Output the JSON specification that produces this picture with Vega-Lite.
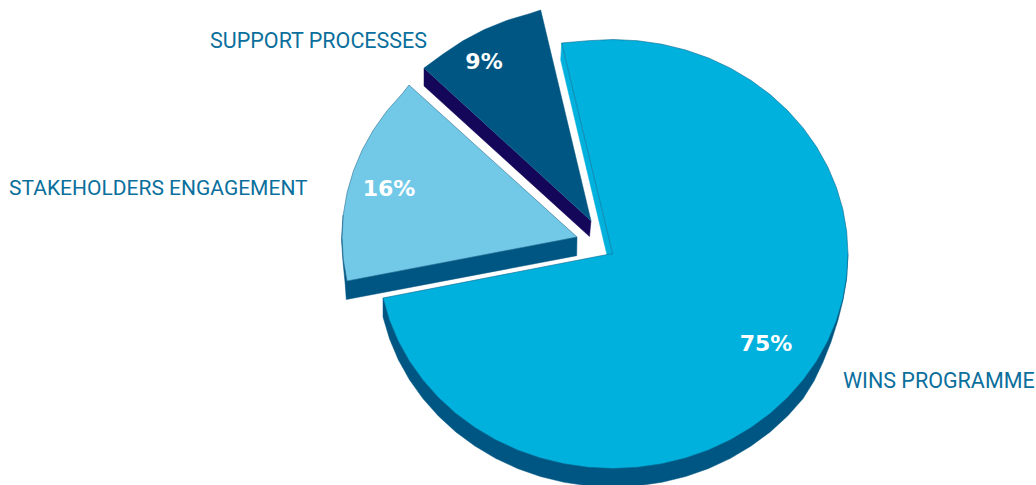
{"$schema":"https://vega.github.io/schema/vega-lite/v6.json","width":1036,"height":485,"padding":0,"autosize":{"type":"none"},"background":"white","config":{"view":{"stroke":null}},
"datasets":{"outline":[
{"s":"mainSide","o":0,"x":848,"y":254},{"s":"mainSide","o":1,"x":846.5,"y":280},{"s":"mainSide","o":2,"x":843,"y":300},{"s":"mainSide","o":3,"x":838,"y":320},{"s":"mainSide","o":4,"x":831,"y":342},{"s":"mainSide","o":4.5,"x":823,"y":362},{"s":"mainSide","o":5,"x":814,"y":381},{"s":"mainSide","o":6,"x":803.1,"y":398.6},{"s":"mainSide","o":7,"x":787.6,"y":416},{"s":"mainSide","o":8,"x":770.2,"y":431.9},{"s":"mainSide","o":9,"x":751.1,"y":446},{"s":"mainSide","o":10,"x":730.5,"y":458.3},{"s":"mainSide","o":11,"x":708.6,"y":468.5},{"s":"mainSide","o":12,"x":685.6,"y":476.5},{"s":"mainSide","o":13,"x":661.9,"y":482.3},{"s":"mainSide","o":14,"x":637.6,"y":485.8},{"s":"mainSide","o":15,"x":613,"y":487},{"s":"mainSide","o":16,"x":588.4,"y":485.8},{"s":"mainSide","o":17,"x":564.1,"y":482.3},{"s":"mainSide","o":18,"x":540.4,"y":476.5},{"s":"mainSide","o":19,"x":517.4,"y":468.5},{"s":"mainSide","o":20,"x":495.5,"y":458.3},{"s":"mainSide","o":21,"x":474.9,"y":446},{"s":"mainSide","o":22,"x":455.8,"y":431.9},{"s":"mainSide","o":23,"x":438.4,"y":416},{"s":"mainSide","o":24,"x":422.9,"y":398.6},{"s":"mainSide","o":25,"x":409.5,"y":379.8},{"s":"mainSide","o":26,"x":398.3,"y":359.7},{"s":"mainSide","o":27,"x":389.5,"y":338.8},{"s":"mainSide","o":28,"x":383,"y":317},{"s":"mainSide","o":29,"x":383,"y":298},
{"s":"mainWall","o":0,"x":561.7,"y":43},{"s":"mainWall","o":1,"x":612.7,"y":254},{"s":"mainWall","o":2,"x":607,"y":255},{"s":"mainWall","o":3,"x":560.7,"y":60},{"s":"mainWall","o":4,"x":561.7,"y":43},
{"s":"main","o":0,"x":561.7,"y":43},{"s":"main","o":1,"x":588.4,"y":40.7},{"s":"main","o":2,"x":613,"y":39.5},{"s":"main","o":3,"x":637.6,"y":40.7},{"s":"main","o":4,"x":661.9,"y":44.2},{"s":"main","o":5,"x":685.6,"y":50},{"s":"main","o":6,"x":708.6,"y":58},{"s":"main","o":7,"x":730.5,"y":68.2},{"s":"main","o":8,"x":751.1,"y":80.5},{"s":"main","o":9,"x":770.2,"y":94.6},{"s":"main","o":10,"x":787.6,"y":110.5},{"s":"main","o":11,"x":803.1,"y":127.9},{"s":"main","o":12,"x":816.5,"y":146.8},{"s":"main","o":13,"x":827.7,"y":166.8},{"s":"main","o":14,"x":836.5,"y":187.7},{"s":"main","o":15,"x":842.9,"y":209.4},{"s":"main","o":16,"x":846.7,"y":231.6},{"s":"main","o":17,"x":848,"y":254},{"s":"main","o":18,"x":846.7,"y":276.4},{"s":"main","o":19,"x":842.9,"y":298.6},{"s":"main","o":20,"x":836.5,"y":320.3},{"s":"main","o":21,"x":827.7,"y":341.2},{"s":"main","o":22,"x":816.5,"y":361.3},{"s":"main","o":23,"x":803.1,"y":380.1},{"s":"main","o":24,"x":787.6,"y":397.5},{"s":"main","o":25,"x":770.2,"y":413.4},{"s":"main","o":26,"x":751.1,"y":427.5},{"s":"main","o":27,"x":730.5,"y":439.8},{"s":"main","o":28,"x":708.6,"y":450},{"s":"main","o":29,"x":685.6,"y":458},{"s":"main","o":30,"x":661.9,"y":463.8},{"s":"main","o":31,"x":637.6,"y":467.3},{"s":"main","o":32,"x":613,"y":468.5},{"s":"main","o":33,"x":588.4,"y":467.3},{"s":"main","o":34,"x":564.1,"y":463.8},{"s":"main","o":35,"x":540.4,"y":458},{"s":"main","o":36,"x":517.4,"y":450},{"s":"main","o":37,"x":495.5,"y":439.8},{"s":"main","o":38,"x":474.9,"y":427.5},{"s":"main","o":39,"x":455.8,"y":413.4},{"s":"main","o":40,"x":438.4,"y":397.5},{"s":"main","o":41,"x":422.9,"y":380.1},{"s":"main","o":42,"x":409.5,"y":361.3},{"s":"main","o":43,"x":398.3,"y":341.2},{"s":"main","o":44,"x":389.5,"y":320.3},{"s":"main","o":45,"x":383,"y":298},{"s":"main","o":46,"x":607.3,"y":254.5},{"s":"main","o":47,"x":612.7,"y":254},{"s":"main","o":48,"x":561.7,"y":43},
{"s":"lightSide","o":0,"x":343,"y":215},{"s":"lightSide","o":1,"x":341.5,"y":240},{"s":"lightSide","o":2,"x":343,"y":262},{"s":"lightSide","o":2.5,"x":345,"y":282},{"s":"lightSide","o":3,"x":346.3,"y":299.5},{"s":"lightSide","o":4,"x":576.7,"y":255.7},{"s":"lightSide","o":5,"x":577,"y":237},
{"s":"light","o":0,"x":347,"y":281},{"s":"light","o":1,"x":343.3,"y":259.4},{"s":"light","o":2,"x":342,"y":237},{"s":"light","o":3,"x":343.3,"y":214.6},{"s":"light","o":4,"x":347.1,"y":192.4},{"s":"light","o":5,"x":353.5,"y":170.7},{"s":"light","o":6,"x":362.3,"y":149.8},{"s":"light","o":7,"x":373.5,"y":129.8},{"s":"light","o":8,"x":386.9,"y":110.9},{"s":"light","o":9,"x":402.4,"y":93.5},{"s":"light","o":10,"x":409,"y":85},{"s":"light","o":11,"x":577,"y":237},{"s":"light","o":12,"x":347,"y":281},
{"s":"darkSide","o":0,"x":424,"y":68},{"s":"darkSide","o":1,"x":424,"y":86},{"s":"darkSide","o":2,"x":589.5,"y":236.5},{"s":"darkSide","o":3,"x":591,"y":220.7},
{"s":"dark","o":0,"x":424,"y":68},{"s":"dark","o":1,"x":443.1,"y":54},{"s":"dark","o":2,"x":463,"y":40.8},{"s":"dark","o":3,"x":484.3,"y":29.6},{"s":"dark","o":4,"x":506.8,"y":20.4},{"s":"dark","o":5,"x":530.2,"y":13.5},{"s":"dark","o":6,"x":540.7,"y":10},{"s":"dark","o":7,"x":591,"y":220.7},{"s":"dark","o":8,"x":424,"y":68}
],
"names":[{"t":"SUPPORT PROCESSES","x":210,"y":42},{"t":"WINS PROGRAMME","x":843,"y":382}],
"longName":[{"t":"STAKEHOLDERS ENGAGEMENT","x":9,"y":189}],
"pcts":[{"t":"9%","x":484,"y":61.5},{"t":"16%","x":389,"y":188.5},{"t":"75%","x":766,"y":343.5}]},
"encoding":{"x":{"field":"x","type":"quantitative","scale":{"domain":[0,1036],"nice":false,"zero":false},"axis":null},"y":{"field":"y","type":"quantitative","scale":{"domain":[485,0],"nice":false,"zero":false},"axis":null}},
"layer":[
{"data":{"name":"outline"},"transform":[{"filter":"datum.s==='mainSide'"}],"mark":{"type":"line","fill":"#005682","stroke":"#005682","strokeWidth":0.5,"clip":true},"encoding":{"order":{"field":"o","type":"quantitative"}}},
{"data":{"name":"outline"},"transform":[{"filter":"datum.s==='mainWall'"}],"mark":{"type":"line","fill":"#01b1dd","stroke":"#01b1dd","strokeWidth":0.5},"encoding":{"order":{"field":"o","type":"quantitative"}}},
{"data":{"name":"outline"},"transform":[{"filter":"datum.s==='main'"}],"mark":{"type":"line","fill":"#01b1dd","stroke":"#0a6a92","strokeWidth":0.6},"encoding":{"order":{"field":"o","type":"quantitative"}}},
{"data":{"name":"outline"},"transform":[{"filter":"datum.s==='lightSide'"}],"mark":{"type":"line","fill":"#005682","stroke":"#005682","strokeWidth":0.5},"encoding":{"order":{"field":"o","type":"quantitative"}}},
{"data":{"name":"outline"},"transform":[{"filter":"datum.s==='light'"}],"mark":{"type":"line","fill":"#72c9e7","stroke":"#2a6f94","strokeWidth":0.6},"encoding":{"order":{"field":"o","type":"quantitative"}}},
{"data":{"name":"outline"},"transform":[{"filter":"datum.s==='darkSide'"}],"mark":{"type":"line","fill":"#14075a","stroke":"#14075a","strokeWidth":0.5},"encoding":{"order":{"field":"o","type":"quantitative"}}},
{"data":{"name":"outline"},"transform":[{"filter":"datum.s==='dark'"}],"mark":{"type":"line","fill":"#005682","stroke":"#005682","strokeWidth":0.5},"encoding":{"order":{"field":"o","type":"quantitative"}}},
{"data":{"name":"names"},"mark":{"type":"text","align":"left","baseline":"middle","font":"Roboto","fontSize":21.5,"color":"#0a6f9c"},"encoding":{"text":{"field":"t"}}},
{"data":{"name":"longName"},"mark":{"type":"text","align":"left","baseline":"middle","font":"Roboto","fontSize":21,"color":"#0a6f9c"},"encoding":{"text":{"field":"t"}}},
{"data":{"name":"pcts"},"mark":{"type":"text","align":"center","baseline":"middle","font":"DejaVu Sans","fontWeight":"bold","fontSize":22,"color":"white"},"encoding":{"text":{"field":"t"}}}
]}
